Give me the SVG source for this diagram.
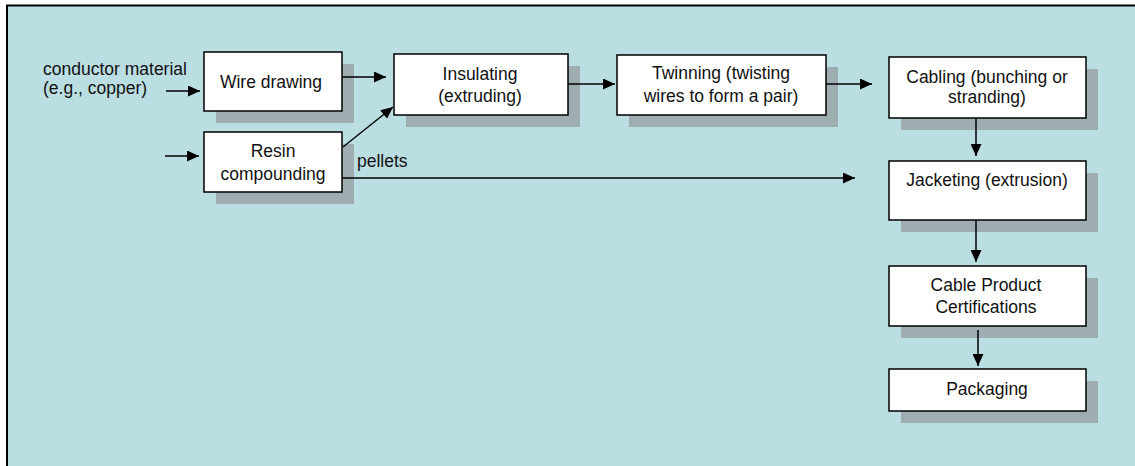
<svg xmlns="http://www.w3.org/2000/svg" width="1135" height="466" viewBox="0 0 1135 466">
<style>
.box{fill:#fff;stroke:#000;stroke-width:1.5}
.sh{fill:#9DADB0}
.t{font-family:"Liberation Sans",Arial,sans-serif;font-size:17.5px;fill:#111}
.c{text-anchor:middle}
.ln{stroke:#000;stroke-width:1.5;fill:none;marker-end:url(#ah)}
</style>
<defs>
<marker id="ah" markerUnits="userSpaceOnUse" markerWidth="13" markerHeight="11" viewBox="0 0 13 11" refX="12" refY="5.5" orient="auto">
<path d="M0,0 L12,5.5 L0,11 z" fill="#000"/>
</marker>
</defs>
<rect x="0" y="0" width="1135" height="466" fill="#fff"/>
<rect x="7" y="5.5" width="1140" height="470" fill="#BBDEE3" stroke="#000" stroke-width="2"/>
<text class="t" x="43" y="75">conductor material</text>
<text class="t" x="43" y="94">(e.g., copper)</text>
<g id="wire"><rect class="sh" x="216" y="64" width="138" height="59"/><rect class="box" x="204" y="52" width="138" height="59"/><text class="t c" x="271" y="88">Wire drawing</text></g>
<g id="resin"><rect class="sh" x="216" y="144" width="138" height="60"/><rect class="box" x="204" y="132" width="138" height="60"/><text class="t c" x="273" y="157">Resin</text><text class="t c" x="273" y="180">compounding</text></g>
<g id="insulating"><rect class="sh" x="406" y="66" width="174" height="61"/><rect class="box" x="394" y="54" width="174" height="61"/><text class="t c" x="480" y="80">Insulating</text><text class="t c" x="480" y="102">(extruding)</text></g>
<g id="twinning"><rect class="sh" x="629" y="67" width="209" height="60"/><rect class="box" x="617" y="55" width="209" height="60"/><text class="t c" x="721" y="79">Twinning (twisting</text><text class="t c" x="721" y="102">wires to form a pair)</text></g>
<g id="cabling"><rect class="sh" x="901" y="69" width="197" height="61"/><rect class="box" x="889" y="57" width="197" height="61"/><text class="t c" x="987" y="83">Cabling (bunching or</text><text class="t c" x="987" y="103">stranding)</text></g>
<g id="jacketing"><rect class="sh" x="901" y="173" width="197" height="59"/><rect class="box" x="889" y="161" width="197" height="59"/><text class="t c" x="987" y="186">Jacketing (extrusion)</text></g>
<g id="cert"><rect class="sh" x="901" y="278" width="197" height="60"/><rect class="box" x="889" y="266" width="197" height="60"/><text class="t c" x="986" y="291">Cable Product</text><text class="t c" x="986" y="313">Certifications</text></g>
<g id="packaging"><rect class="sh" x="901" y="381" width="197" height="42"/><rect class="box" x="889" y="369" width="197" height="42"/><text class="t c" x="987" y="395">Packaging</text></g>
<g id="connectors">
<line class="ln" x1="166" y1="91" x2="200" y2="91"/>
<line class="ln" x1="165" y1="156" x2="199" y2="156"/>
<line class="ln" x1="342" y1="77" x2="386" y2="77"/>
<line class="ln" x1="343" y1="147" x2="393" y2="107"/>
<line class="ln" x1="568" y1="84" x2="615" y2="84"/>
<line class="ln" x1="826" y1="84" x2="872" y2="84"/>
<line class="ln" x1="342" y1="178" x2="855" y2="178"/>
<line class="ln" x1="976" y1="118" x2="976" y2="156"/>
<line class="ln" x1="976" y1="220" x2="976" y2="262"/>
<line class="ln" x1="978" y1="330" x2="978" y2="366"/>
<text class="t" x="357" y="167">pellets</text>
</g>
</svg>
